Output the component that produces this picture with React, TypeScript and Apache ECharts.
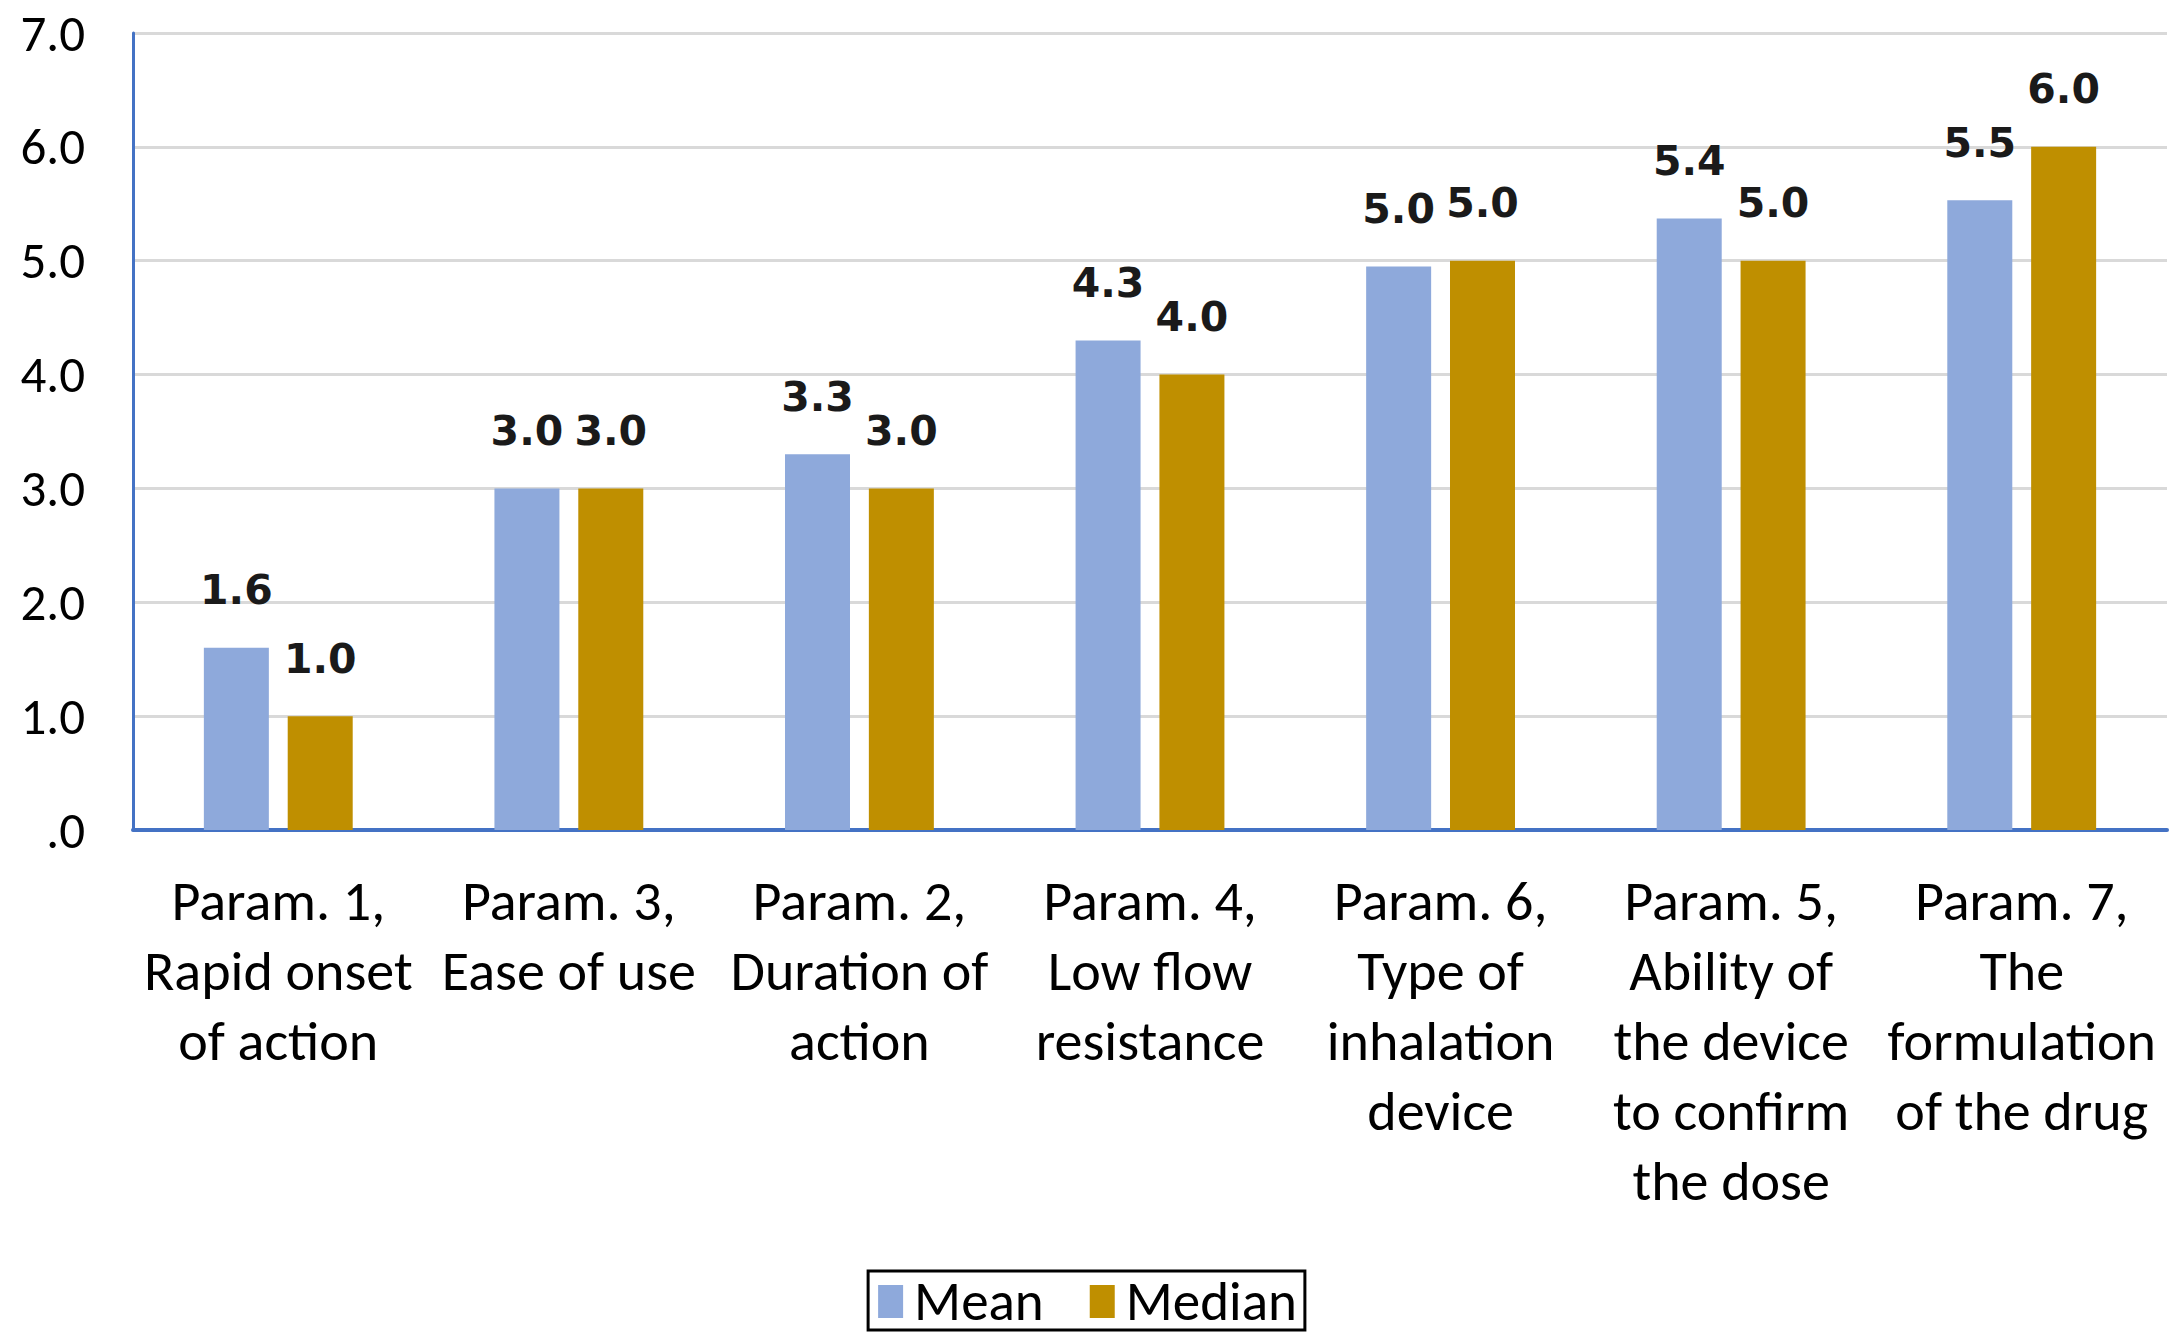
import React, { useEffect, useRef } from "react";
import * as echarts from "echarts";

const categories = [
  "Param. 1,\nRapid onset\nof action",
  "Param. 3,\nEase of use",
  "Param. 2,\nDuration of\naction",
  "Param. 4,\nLow flow\nresistance",
  "Param. 6,\nType of\ninhalation\ndevice",
  "Param. 5,\nAbility of\nthe device\nto confirm\nthe dose",
  "Param. 7,\nThe\nformulation\nof the drug",
];
const meanValues = [1.6, 3.0, 3.3, 4.3, 4.95, 5.37, 5.53];
const meanLabels = ["1.6", "3.0", "3.3", "4.3", "5.0", "5.4", "5.5"];
const medianValues = [1.0, 3.0, 3.0, 4.0, 5.0, 5.0, 6.0];
const seriesNames = ["Mean", "Median"];

const UI_FONT = "Carlito, 'Liberation Sans Narrow', Lato, sans-serif";

export default function App() {
  const ref = useRef<HTMLDivElement>(null);
  useEffect(() => {
    document.body.style.margin = "0";
    const chart = echarts.init(ref.current!, null, { renderer: "svg" });
    const labelStyle = {
      show: true,
      position: "top",
      distance: 37,
      fontFamily: "'DejaVu Sans', Verdana, sans-serif",
      fontWeight: "bold",
      fontSize: 41,
      color: "#1a1a1a",
    };
    chart.setOption({
      animation: false,
      backgroundColor: "#ffffff",
      grid: { left: 133, right: 8, top: 33, bottom: 504, containLabel: false },
      legend: {
        bottom: 4,
        left: "center",
        data: seriesNames,
        itemWidth: 25,
        itemHeight: 33,
        itemGap: 46,
        icon: "rect",
        borderColor: "#000",
        borderWidth: 3,
        padding: [3, 8, 1, 10],
        textStyle: {
          fontFamily: UI_FONT,
          fontSize: 55,
          lineHeight: 48,
          fontWeight: 500,
          color: "#000",
          padding: [0, 0, 0, 6],
        },
      },
      xAxis: {
        type: "category",
        data: categories,
        axisLine: { lineStyle: { color: "#4472C4", width: 4 } },
        axisTick: { show: false },
        axisLabel: {
          interval: 0,
          margin: 36,
          fontFamily: UI_FONT,
          fontSize: 56,
          lineHeight: 70,
          color: "#000",
        },
      },
      yAxis: {
        type: "value",
        min: 0,
        max: 7,
        interval: 1,
        axisLine: { show: true, lineStyle: { color: "#4472C4", width: 3 } },
        axisTick: { show: false },
        splitLine: { lineStyle: { color: "#D9D9D9", width: 3 } },
        axisLabel: {
          margin: 48,
          fontFamily: UI_FONT,
          fontSize: 51,
          lineHeight: 46,
          color: "#000",
          formatter: (v: number) => (v === 0 ? ".0" : v.toFixed(1)),
        },
      },
      series: [
        {
          name: seriesNames[0],
          type: "bar",
          data: meanValues,
          barWidth: 65,
          barGap: "29%",
          itemStyle: { color: "#8EA9DB" },
          label: { ...labelStyle, formatter: (p: any) => meanLabels[p.dataIndex] },
        },
        {
          name: seriesNames[1],
          type: "bar",
          data: medianValues,
          barWidth: 65,
          barGap: "29%",
          itemStyle: { color: "#BF8F00" },
          label: { ...labelStyle, formatter: (p: any) => p.value.toFixed(1) },
        },
      ],
    });
    return () => chart.dispose();
  }, []);
  return <div ref={ref} style={{ width: 2175, height: 1334 }} />;
}
